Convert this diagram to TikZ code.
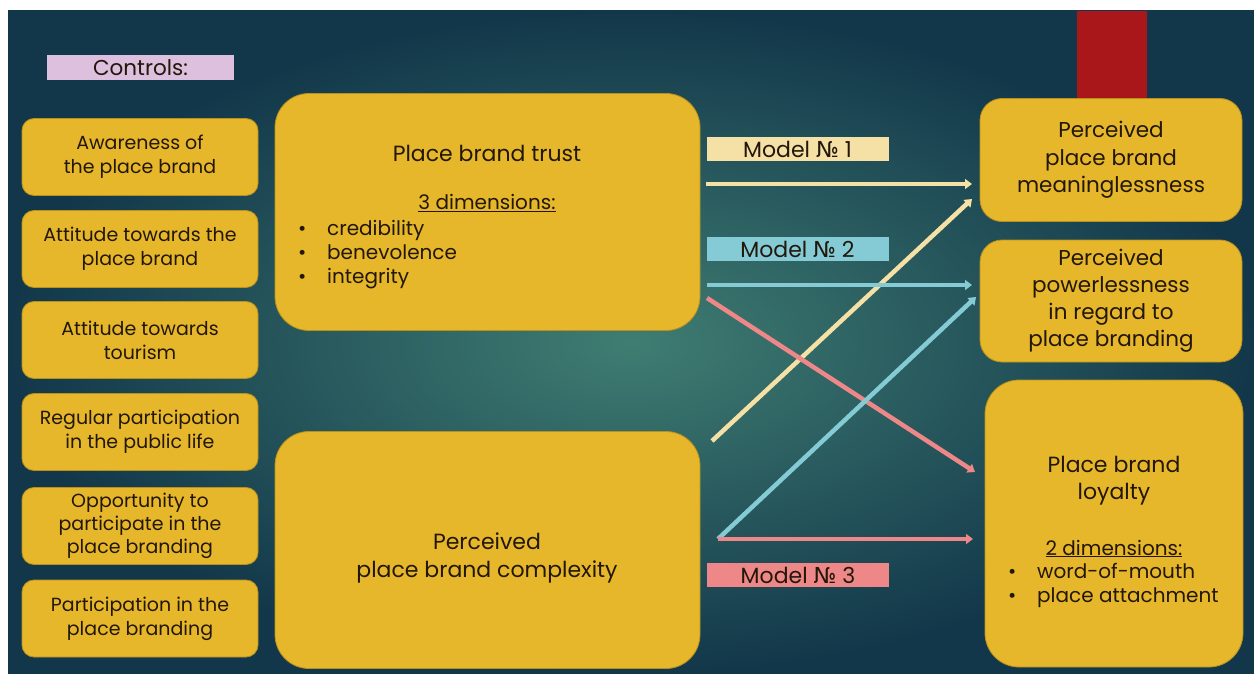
\documentclass[tikz,border=0pt]{standalone}
\usepackage{fontspec}
\setmainfont{Poppins}
\newfontfamily\symfont{DejaVu Sans}
\usetikzlibrary{arrows.meta}
\definecolor{gold}{HTML}{E6B72B}
\definecolor{goldedge}{HTML}{B8901C}
\definecolor{ink}{HTML}{22170A}
\definecolor{bgdark}{HTML}{12374A}
\definecolor{bgmid}{HTML}{3F7D72}
\definecolor{pinklab}{HTML}{DCC0DD}
\definecolor{redbar}{HTML}{AA171A}
\definecolor{mone}{HTML}{F5E1A6}
\definecolor{mtwo}{HTML}{84CBD6}
\definecolor{mthree}{HTML}{EE8787}
\newcommand{\nr}{{\symfont №}}
\tikzset{
  ctlbox/.style={fill=gold, draw=goldedge, line width=0.8pt, rounded corners=12pt,
    minimum width=236pt, minimum height=77pt, align=center, text=ink,
    font=\fontsize{19}{24}\selectfont, inner sep=0pt},
  bigbox/.style={fill=gold, draw=goldedge, line width=0.8pt, rounded corners=34pt,
    minimum width=425pt, minimum height=237pt, inner sep=0pt},
  outbox/.style={fill=gold, draw=goldedge, line width=0.8pt, rounded corners=22pt,
    minimum width=262pt, minimum height=123pt, align=center, text=ink,
    font=\fontsize{21.5}{27.5}\selectfont, inner sep=0pt},
  txt/.style={text=ink, inner sep=0pt},
  ttl/.style={txt, font=\fontsize{22}{28}\selectfont},
  sml/.style={txt, font=\fontsize{20}{24}\selectfont},
  modlab/.style={minimum width=182pt, minimum height=24pt, inner sep=0pt, text=ink,
    font=\fontsize{22}{22}\selectfont},
  arr/.style={line width=4.5pt, -{Triangle[length=7pt,width=10pt]}},
}
\begin{document}
\begin{tikzpicture}[x=1pt,y=-1pt]
\useasboundingbox (0,0) rectangle (1254,674);
\fill[white] (0,0) rectangle (1254,674);
\shade[inner color=bgmid, outer color=bgdark] (8,11) rectangle (1254,674);

% Controls label and red bar
\node[fill=pinklab, minimum width=187pt, minimum height=25pt, inner sep=0pt, text=ink,
  font=\fontsize{21.5}{22}\selectfont] (ctrl) at (140.5,67.5) {Controls:};
\fill[redbar] (1077,11) rectangle (1147,98);

% Control boxes
\node[ctlbox] (c1) at (140,157) {Awareness of\\the place brand};
\node[ctlbox] (c2) at (140,249) {Attitude towards the\\place brand};
\node[ctlbox] (c3) at (140,340) {Attitude towards\\tourism};
\node[ctlbox] (c4) at (140,432) {Regular participation\\in the public life};
\node[ctlbox, font=\fontsize{19}{23}\selectfont] (c5) at (140,526) {Opportunity to\\participate in the\\place branding};
\node[ctlbox] (c6) at (140,618.5) {Participation in the\\place branding};

% Trust box
\node[bigbox] (trust) at (487.5,212) {};
\node[ttl, anchor=base] (trustt) at (487,162) {Place brand trust};
\node[sml, anchor=base] (trustd) at (487,210) {\underline{3 dimensions:}};
\node[sml, anchor=base west] (tb1) at (298,235) {•};
\node[sml, anchor=base west] (tt1) at (327,235) {credibility};
\node[sml, anchor=base west] (tb2) at (298,259) {•};
\node[sml, anchor=base west] (tt2) at (327,259) {benevolence};
\node[sml, anchor=base west] (tb3) at (298,283) {•};
\node[sml, anchor=base west] (tt3) at (327,283) {integrity};

% Complexity box
\node[bigbox] (complex) at (487.5,550) {};
\node[ttl, align=center, font=\fontsize{22}{28}\selectfont] (complext) at (487,558) {Perceived\\place brand complexity};

% Output boxes
\node[outbox] (mean) at (1111,160) {Perceived\\place brand\\meaninglessness};
\node[outbox, minimum height=122pt, font=\fontsize{21.5}{27}\selectfont] (power) at (1111,301) {Perceived\\powerlessness\\in regard to\\place branding};
\node[bigbox, rounded corners=34pt, minimum width=258pt, minimum height=287pt] (loyal) at (1114,523.5) {};
\node[ttl, anchor=base] (loyalt1) at (1114,472) {Place brand};
\node[ttl, anchor=base] (loyalt2) at (1114,499) {loyalty};
\node[sml, anchor=base] (loyald) at (1114,555) {\underline{2 dimensions:}};
\node[sml, anchor=base west] (lb1) at (1008,578) {•};
\node[sml, anchor=base west] (lt1) at (1037,578) {word-of-mouth};
\node[sml, anchor=base west] (lb2) at (1008,602) {•};
\node[sml, anchor=base west] (lt2) at (1037,602) {place attachment};

% Model labels
\node[modlab, fill=mone] (m1) at (797.5,149) {Model \nr\ 1};
\node[modlab, fill=mtwo] (m2) at (797.5,249) {Model \nr\ 2};
\node[modlab, fill=mthree] (m3) at (798,575) {Model \nr\ 3};

% Arrow end points
\coordinate (a1s) at (706,184);  \coordinate (a1e) at (972,184);
\coordinate (a2s) at (712,441);  \coordinate (a2e) at (972,199);
\coordinate (b1s) at (707,285);  \coordinate (b1e) at (972,285);
\coordinate (b2s) at (718,539);  \coordinate (b2e) at (976,297);
\coordinate (p1s) at (707,298);  \coordinate (p1e) at (975,472);
\coordinate (p2s) at (718,539);  \coordinate (p2e) at (973,539);

\draw[arr, mone] (a1s) -- (a1e);
\draw[arr, mone] (a2s) -- (a2e);
\draw[arr, mtwo] (b1s) -- (b1e);
\draw[arr, mthree] (p1s) -- (p1e);
\draw[arr, mtwo] (b2s) -- (b2e);
\draw[arr, mthree] (p2s) -- (p2e);
\end{tikzpicture}
\end{document}
